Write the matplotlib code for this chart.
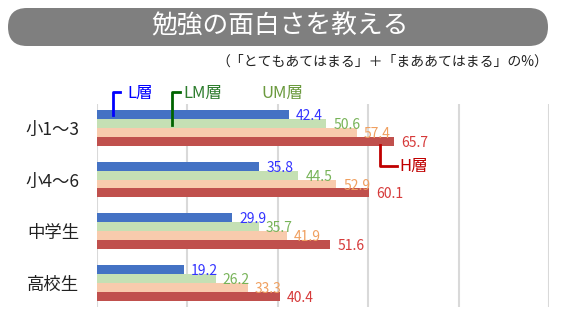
import matplotlib
matplotlib.use("Agg")
import matplotlib.pyplot as plt
from matplotlib.patches import FancyBboxPatch
from matplotlib.transforms import IdentityTransform
import numpy as np

plt.rcParams["font.family"] = ["Noto Sans CJK JP", "DejaVu Sans"]

# ── データ ───────────────────────────────────────────────
categories = ["小1～3", "小4～6", "中学生", "高校生"]
series_names = ["L層", "LM層", "UM層", "H層"]
l_vals = [42.4, 35.8, 29.9, 19.2]
lm_vals = [50.6, 44.5, 35.7, 26.2]
um_vals = [57.4, 52.9, 41.9, 33.3]
h_vals = [65.7, 60.1, 51.6, 40.4]

bar_colors = ["#4472c4", "#c5e0b4", "#f8cbad", "#c0504d"]
value_colors = ["#3333ff", "#77b358", "#f0a060", "#d63a3a"]

W, H = 579, 325
fig = plt.figure(figsize=(W / 100, H / 100), dpi=100)
fig.patch.set_facecolor("white")

# タイトル（角丸の帯）
box = FancyBboxPatch((8, H - 46), 540, 38,
                     boxstyle="round,pad=0,rounding_size=19",
                     transform=IdentityTransform(),
                     facecolor="#7f7f7f", edgecolor="none")
fig.patches.append(box)
fig.text(280 / W, 1 - 26 / H, "勉強の面白さを教える", color="white",
         fontsize=18.5, ha="center", va="center")
fig.text(548 / W, 1 - 62 / H, "（「とてもあてはまる」＋「まああてはまる」の%）",
         color="#222222", fontsize=10, ha="right", va="center")

# ── グラフ本体 ───────────────────────────────────────────
ax = fig.add_axes([97 / W, 18 / H, 452.4 / W, 203 / H])
y = np.arange(len(categories))
h = 0.172
all_vals = [l_vals, lm_vals, um_vals, h_vals]
for k, (vals, col, tcol) in enumerate(zip(all_vals, bar_colors, value_colors)):
    ypos = y + (k - 1.5) * h
    ax.barh(ypos, vals, height=h, color=col, edgecolor="none", zorder=2)
    for yy, v in zip(ypos, vals):
        ax.text(v + 1.6, yy + 0.03, f"{v:.1f}", color=tcol, fontsize=10,
                ha="left", va="center", zorder=3)

ax.set_xlim(0, 100)
ax.set_ylim(3.47, -0.466)
ax.set_xticks(np.arange(0, 101, 20))
ax.xaxis.grid(True, color="#d9d9d9", linewidth=1.5, zorder=0)
ax.tick_params(axis="x", length=0, labelbottom=False)
ax.set_yticks(y)
ax.set_yticklabels(categories, fontsize=12.5, color="#222222")
ax.tick_params(axis="y", length=0, pad=13)
for s in ax.spines.values():
    s.set_visible(False)
ax.set_facecolor("none")

# 凡例代わりの注記
def px(x, yy):
    return x / W, 1 - yy / H

fig.lines.append(plt.Line2D([113 / W, 113 / W, 120 / W],
                            [1 - 115 / H, 1 - 92 / H, 1 - 92 / H],
                            transform=fig.transFigure, color="#0000ff", linewidth=2))
fig.text(*px(127, 93), series_names[0], color="#0000ff", fontsize=12, va="center")

fig.lines.append(plt.Line2D([172 / W, 172 / W, 180 / W],
                            [1 - 125 / H, 1 - 92 / H, 1 - 92 / H],
                            transform=fig.transFigure, color="#006400", linewidth=2))
fig.text(*px(183, 93), series_names[1], color="#2e7d2e", fontsize=12, va="center")

fig.text(*px(261, 93), series_names[2], color="#6b9a3e", fontsize=12, va="center")

fig.lines.append(plt.Line2D([380 / W, 380 / W, 397 / W],
                            [1 - 145 / H, 1 - 166 / H, 1 - 166 / H],
                            transform=fig.transFigure, color="#c00000", linewidth=2))
fig.text(*px(399, 166), series_names[3], color="#c00000", fontsize=12, va="center")

fig.savefig("out.png", dpi=100)
plt.close(fig)
